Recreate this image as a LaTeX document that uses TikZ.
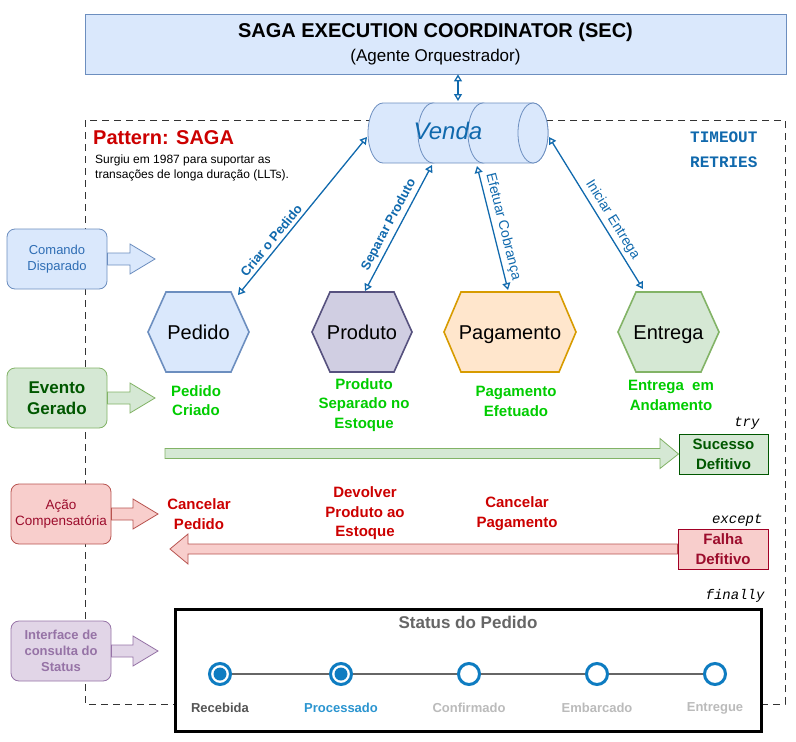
\documentclass[tikz,border=0pt]{standalone}
\usepackage{fontspec}
\setmainfont{Liberation Sans}
\newfontfamily\courfont{Liberation Mono}
\usetikzlibrary{arrows.meta}
\newcommand\fsz[2]{\fontsize{#1}{#2}\selectfont}
\definecolor{bfill}{HTML}{DAE8FC}
\definecolor{bline}{HTML}{6C8EBF}
\definecolor{gfill}{HTML}{D5E8D4}
\definecolor{gline}{HTML}{82B366}
\definecolor{rfill}{HTML}{F8CECC}
\definecolor{rline}{HTML}{B85450}
\definecolor{pfill}{HTML}{E1D5E7}
\definecolor{pline}{HTML}{9673A6}
\definecolor{ofill}{HTML}{FFE6CC}
\definecolor{oline}{HTML}{D79B00}
\definecolor{vfill}{HTML}{D0CEE2}
\definecolor{vline}{HTML}{56517E}
\definecolor{arrc}{HTML}{1069AD}
\definecolor{cmdtxt}{HTML}{2E6DB4}
\definecolor{evgreen}{HTML}{00CC00}
\definecolor{dkgreen}{HTML}{005700}
\definecolor{redtxt}{HTML}{CC0000}
\definecolor{dkred}{HTML}{9C0C2C}
\definecolor{falhaline}{HTML}{A20025}
\definecolor{stc}{HTML}{0E7CC1}
\definecolor{proc}{HTML}{2B95D0}
\definecolor{ltgray}{HTML}{BBBBBB}
\definecolor{dkgray}{HTML}{555555}
\definecolor{ttl}{HTML}{666666}
\begin{document}
\begin{tikzpicture}[x=1pt,y=-1pt,
  conn/.style={draw=arrc, line width=1.3pt,
    {Triangle[length=7pt,width=8pt,fill=white]}-{Triangle[length=7pt,width=8pt,fill=white]}},
  lbox/.style={rounded corners=8pt, minimum width=100pt, minimum height=60pt, align=center, inner sep=0pt, line width=0.8pt},
  hexa/.style={line width=1.6pt},
  hexlbl/.style={anchor=base, inner sep=0pt, font={\fsz{20}{24}}},
  evlbl/.style={align=center, text=evgreen, font={\fsz{15}{19.5}\bfseries}},
  cplbl/.style={align=center, text=redtxt, font={\fsz{15}{19.5}\bfseries}},
  codelbl/.style={anchor=east, font={\courfont\itshape\fsz{14}{16}}},
  stlbl/.style={font={\fsz{13}{16}\bfseries}},
  stcirc/.style={circle, draw=stc, line width=3pt, fill=white, minimum size=21pt, inner sep=0pt},
  cyl/.style={draw=bline, fill=bfill, line width=0.8pt}
]
\useasboundingbox (0,0) rectangle (796,742);

% dashed pattern frame
\draw[dash pattern=on 7pt off 5pt, line width=0.9pt, black!80] (85,120) rectangle (785,704);

% top coordinator box
\node (sec) [draw=bline, fill=bfill, minimum width=701pt, minimum height=60pt, inner sep=0pt, line width=0.8pt] at (435.5,44) {};
\node (sectitle) at (435.5,32) {\fsz{20}{24}\bfseries SAGA EXECUTION COORDINATOR (SEC)};
\node (secsub) at (435.5,57) {\fsz{17}{20}(Agente Orquestrador)};

% pattern title
\node[anchor=west, inner sep=0pt] (pat) at (93,138) {\fsz{20}{24}\bfseries\color{redtxt}Pattern: SAGA};
\node[anchor=base west, inner sep=0pt] (pat1) at (95,163) {\fsz{12}{15}Surgiu em 1987 para suportar as};
\node[anchor=base west, inner sep=0pt] (pat2) at (95,178) {\fsz{12}{15}transações de longa duração (LLTs).};

% timeout / retries
\node[anchor=west, inner sep=0pt] (tmo) at (690,137) {\courfont\bfseries\fsz{16}{18}\color{arrc}TIMEOUT};
\node[anchor=west, inner sep=0pt] (rtr) at (690,162) {\courfont\bfseries\fsz{16}{18}\color{arrc}RETRIES};

% cylinder (three segments)
\path[cyl] (383,103) -- (433,103) arc[start angle=-90, end angle=90, x radius=15, y radius=30] -- (383,163) arc[start angle=90, end angle=270, x radius=15, y radius=30] -- cycle;
\path[cyl] (433,103) -- (483,103) arc[start angle=-90, end angle=90, x radius=15, y radius=30] -- (433,163) arc[start angle=90, end angle=270, x radius=15, y radius=30] -- cycle;
\path[cyl] (483,103) -- (533,103) arc[start angle=-90, end angle=90, x radius=15, y radius=30] -- (483,163) arc[start angle=90, end angle=270, x radius=15, y radius=30] -- cycle;
\draw[cyl] (533,133) ellipse[x radius=15, y radius=30];
\node (venda) at (448,131) {\fsz{24}{28}\itshape\color{arrc}Venda};

% hexagons
\path[hexa, draw=bline, fill=bfill] (148,332) -- (166,292) -- (231,292) -- (249,332) -- (231,372) -- (166,372) -- cycle;
\node[hexlbl] (pedido) at (198.5,339) {Pedido};
\path[hexa, draw=vline, fill=vfill] (312,332) -- (330,292) -- (394,292) -- (412,332) -- (394,372) -- (330,372) -- cycle;
\node[hexlbl] (produto) at (362,339) {Produto};
\path[hexa, draw=oline, fill=ofill] (444,332) -- (461,292) -- (559,292) -- (576,332) -- (559,372) -- (461,372) -- cycle;
\node[hexlbl] (pagamento) at (510,339) {Pagamento};
\path[hexa, draw=gline, fill=gfill] (618,332) -- (636,292) -- (701,292) -- (719,332) -- (701,372) -- (636,372) -- cycle;
\node[hexlbl] (entrega) at (668.5,339) {Entrega};

% connector endpoints
\coordinate (vtop) at (458,101);
\coordinate (cA) at (367,137);
\coordinate (hA) at (238,295);
\coordinate (cB) at (432,165);
\coordinate (hB) at (365,291);
\coordinate (cC) at (477,166);
\coordinate (hC) at (508,290);
\coordinate (cD) at (549,137);
\coordinate (hD) at (643,289);

\draw[conn] ([xshift=22.5pt]sec.south) -- (vtop);
\draw[conn] (hA) -- (cA) node[sloped, above, pos=0.31, text=arrc, font={\fsz{13}{15}\bfseries}] {Criar o Pedido};
\draw[conn] (hB) -- (cB) node[sloped, above, pos=0.49, text=arrc, font={\fsz{13}{15}\bfseries}] {Separar Produto};
\draw[conn] (cC) -- (hC) node[sloped, above, pos=0.51, text=arrc, font={\fsz{14}{16}}] {Efetuar Cobrança};
\draw[conn] (cD) -- (hD) node[sloped, above, pos=0.58, text=arrc, font={\fsz{14}{16}}] {Iniciar Entrega};

% left legend boxes with block arrows
\node (cmd) [lbox, draw=bline, fill=bfill, text=cmdtxt, font={\fsz{13}{16}}] at (57,259) {Comando\\Disparado};
\path[draw=bline, fill=bfill, line width=0.8pt] (cmd.east |- 0,253) -- (130,253) -- (130,244) -- (155,259) -- (130,274) -- (130,265) -- (cmd.east |- 0,265) -- cycle;

\node (evt) [lbox, draw=gline, fill=gfill, text=dkgreen, font={\fsz{17}{21}\bfseries}] at (57,398) {Evento\\Gerado};
\path[draw=gline, fill=gfill, line width=0.8pt] (evt.east |- 0,392) -- (130,392) -- (130,383) -- (155,398) -- (130,413) -- (130,404) -- (evt.east |- 0,404) -- cycle;

\node (acao) [lbox, draw=rline, fill=rfill, text=dkred, font={\fsz{13.5}{15.5}}] at (61,514) {Ação\\Compensatória};
\path[draw=rline, fill=rfill, line width=0.8pt] (acao.east |- 0,508) -- (133,508) -- (133,499) -- (158,514) -- (133,529) -- (133,520) -- (acao.east |- 0,520) -- cycle;

\node (intf) [lbox, draw=pline, fill=pfill, text=pline, font={\fsz{13}{16}\bfseries}] at (61,651) {Interface de\\consulta do\\Status};
\path[draw=pline, fill=pfill, line width=0.8pt] (intf.east |- 0,645) -- (133,645) -- (133,636) -- (158,651) -- (133,666) -- (133,657) -- (intf.east |- 0,657) -- cycle;

% events generated
\node[evlbl] (ev1) at (196,400.5) {Pedido\\Criado};
\node[evlbl] (ev2) at (364,405) {Produto\\Separado no\\Estoque};
\node[evlbl] (ev3) at (516,401.5) {Pagamento\\Efetuado};
\node[evlbl] (ev4) at (671,395.5) {Entrega\ \ em\\Andamento};

% success arrow and box
\node (suc) [draw=dkgreen, fill=gfill, line width=1pt, minimum width=89pt, minimum height=40pt, inner sep=0pt, align=center, text=dkgreen, font={\fsz{15}{20}\bfseries}] at (723.5,454) {Sucesso\\Defitivo};
\path[draw=gline, fill=gfill, line width=0.8pt] (165,448.5) -- (660,448.5) -- (660,438.5) -- (suc.west) -- (660,468.5) -- (660,458.5) -- (165,458.5) -- cycle;
\node[codelbl] (try) at (763,423) {try};

% compensations
\node[cplbl] (cp1) at (199,514) {Cancelar\\Pedido};
\node[cplbl] (cp2) at (365,513.5) {Devolver\\Produto ao\\Estoque};
\node[cplbl] (cp3) at (517,513.5) {Cancelar\\Pagamento};

\node (fal) [draw=falhaline, fill=rfill, line width=1pt, minimum width=90pt, minimum height=40pt, inner sep=0pt, align=center, text=dkred, font={\fsz{15}{20}\bfseries}] at (723,549) {Falha\\Defitivo};
\path[draw=rline, fill=rfill, line width=0.8pt] (fal.west |- 0,544) -- (188,544) -- (188,534) -- (170,549) -- (188,564) -- (188,554) -- (fal.west |- 0,554) -- cycle;
\node[codelbl] (exc) at (766,520) {except};

% status panel
\node (status) [draw=black, line width=3pt, fill=white, minimum width=586pt, minimum height=122pt, inner sep=0pt] at (468.5,670.5) {};
\node[codelbl] (fin) at (768,596) {finally};
\node (sttitle) at (468,622) {\fsz{17}{20}\bfseries\color{ttl}Status do Pedido};
\node[stcirc] (s1) at (220,674) {};
\node[stcirc] (s2) at (341,674) {};
\node[stcirc] (s3) at (469,674) {};
\node[stcirc] (s4) at (597,674) {};
\node[stcirc] (s5) at (715,674) {};
\fill[stc] (s1) circle[radius=6.5];
\fill[stc] (s2) circle[radius=6.5];
\draw[ttl, line width=1.3pt] (s1) -- (s2) -- (s3) -- (s4) -- (s5);
\node[stlbl, text=dkgray] (l1) at (220,708) {Recebida};
\node[stlbl, text=proc] (l2) at (341,708) {Processado};
\node[stlbl, text=ltgray] (l3) at (469,708) {Confirmado};
\node[stlbl, text=ltgray] (l4) at (597,708) {Embarcado};
\node[stlbl, text=ltgray] (l5) at (715,708) {Entregue};
\end{tikzpicture}
\end{document}
